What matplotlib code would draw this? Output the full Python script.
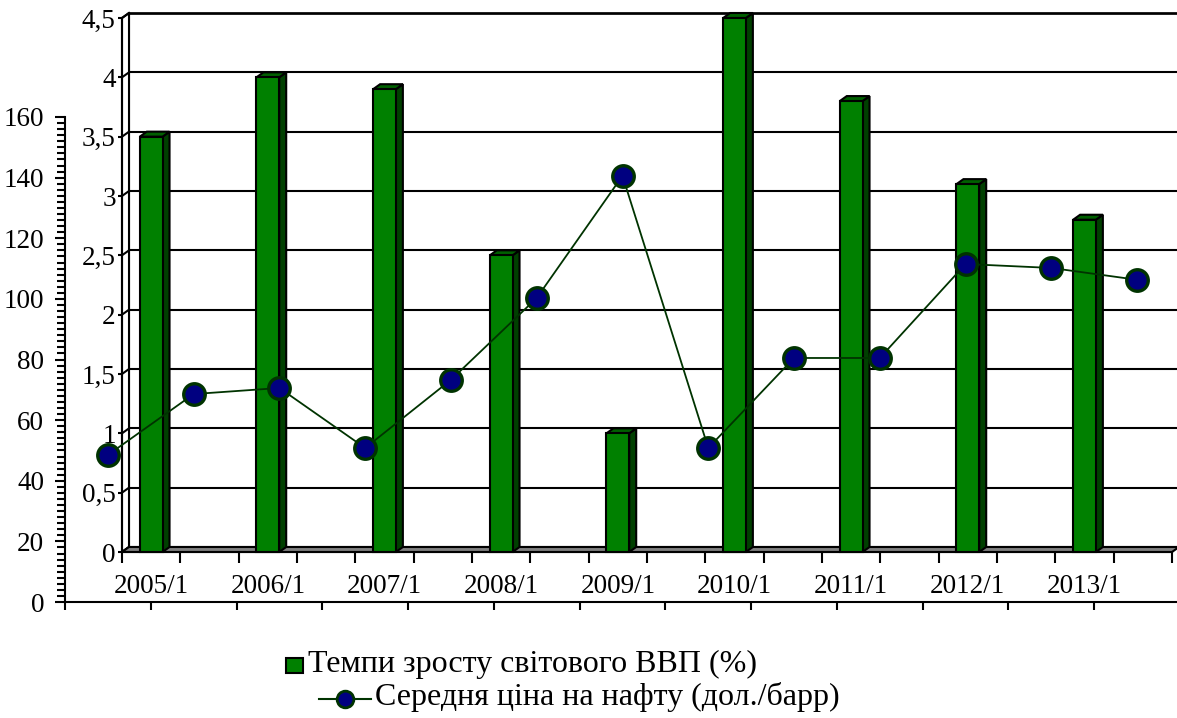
import matplotlib
matplotlib.use("Agg")
import matplotlib.pyplot as plt
import numpy as np
from matplotlib.patches import Polygon, Rectangle
from matplotlib.lines import Line2D
from matplotlib.ticker import MultipleLocator

plt.rcParams['font.family'] = ['Liberation Serif', 'DejaVu Serif']

# categories of the bar (inner) axis - half years
semesters = ['2005/1', '2005/2', '2006/1', '2006/2', '2007/1', '2007/2',
             '2008/1', '2008/2', '2009/1', '2009/2', '2010/1', '2010/2',
             '2011/1', '2011/2', '2012/1', '2012/2', '2013/1', '2013/2']

# world GDP growth (%) - one bar per year
gdp_labels = ['2005/1', '2006/1', '2007/1', '2008/1', '2009/1',
              '2010/1', '2011/1', '2012/1', '2013/1']
gdp_growth = [3.5, 4.0, 3.9, 2.5, 1.0, 4.5, 3.8, 3.1, 2.8]
gdp_ticks = [0, 0.5, 1, 1.5, 2, 2.5, 3, 3.5, 4, 4.5]

# average oil price (USD/barrel), half-year points
oil_price = [48.5, 68.6, 70.6, 50.8, 73.3, 100.3, 140.6,
             50.8, 80.5, 80.5, 111.5, 110.2, 106.3]
oil_ticks = [0, 20, 40, 60, 80, 100, 120, 140, 160]

W, H = 1177, 718
FS = 19.5      # tick labels
FS_LEG = 23    # legend
LW = 1.5
GREEN = '#008000'
SIDE = '#004000'
TOP = '#006000'

fig = plt.figure(figsize=(W / 100, H / 100), dpi=100)

# back wall with gridlines
ax_back = fig.add_axes([129 / W, (H - 547) / H, 1050 / W, 534 / H])
# front plane: bars, floor, inner axis labels
ax_front = fig.add_axes([122 / W, (H - 552) / H, 1050 / W, 534 / H])
# outer axis for the oil price line
ax_oil = fig.add_axes([65 / W, (H - 602) / H, 1115 / W, 485 / H])

n = len(semesters)
ymax = gdp_ticks[-1]
# 3d depth in data units
ddx = 7 / (1050 / n)
ddy = 5 / (534 / ymax)

for ax in (ax_back, ax_front):
    ax.set_xlim(-0.5, n - 0.5)
    ax.set_ylim(0, ymax)

ax_back.set_yticks(gdp_ticks)
ax_back.set_xticks([])
ax_back.grid(axis='y', color='black', lw=LW)
ax_back.tick_params(left=False, labelleft=False)
for s in ['right', 'bottom']:
    ax_back.spines[s].set_visible(False)
ax_back.spines['left'].set_linewidth(LW)
ax_back.spines['top'].set_linewidth(LW * 1.3)

ax_front.set_facecolor('none')
for s in ['top', 'right']:
    ax_front.spines[s].set_visible(False)
for s in ['left', 'bottom']:
    ax_front.spines[s].set_linewidth(LW)
    ax_front.spines[s].set_zorder(6)

# left side wall
x0 = -0.5
ax_front.add_patch(Polygon([(x0, 0), (x0, ymax), (x0 + ddx, ymax + ddy), (x0 + ddx, ddy)],
                           closed=True, fc='white', ec='black', lw=LW, clip_on=False, zorder=1))
for t in gdp_ticks:
    ax_front.plot([x0, x0 + ddx], [t, t + ddy], color='black', lw=LW, clip_on=False, zorder=1)

# floor
x1 = n - 0.5
ax_front.add_patch(Polygon([(x0, 0), (x1, 0), (x1 + ddx, ddy), (x0 + ddx, ddy)],
                           closed=True, fc='#808080', ec='black', lw=LW, clip_on=False, zorder=2))

# bars
bw = 0.39
for lab, v in zip(gdp_labels, gdp_growth):
    p = semesters.index(lab)
    r = p + bw / 2
    l = p - bw / 2
    ax_front.add_patch(Polygon([(r, 0), (r + ddx, ddy), (r + ddx, v + ddy), (r, v)],
                               closed=True, fc=SIDE, ec='black', lw=LW, clip_on=False, zorder=3))
    ax_front.add_patch(Polygon([(l, v), (r, v), (r + ddx, v + ddy), (l + ddx, v + ddy)],
                               closed=True, fc=TOP, ec='black', lw=LW, clip_on=False, zorder=3))
    ax_front.bar(p, v, width=bw, color=GREEN, edgecolor='black', lw=LW, zorder=4, clip_on=False)

ax_front.set_yticks(gdp_ticks)
ax_front.set_yticklabels([('%g' % t).replace('.', ',') for t in gdp_ticks])
ax_front.tick_params(axis='y', length=3, width=LW, pad=1.5, labelsize=FS)
ax_front.set_xticks(np.arange(-0.5, n, 1))
ax_front.set_xticklabels([])
ax_front.tick_params(axis='x', which='major', length=8, width=LW, direction='out')
ax_front.set_xticks(np.arange(n), minor=True)
ax_front.set_xticklabels([s if s in gdp_labels else '' for s in semesters], minor=True)
ax_front.tick_params(axis='x', which='minor', length=0, pad=16, labelsize=FS)

# oil price line
m = len(oil_price)
ax_oil.set_facecolor('none')
ax_oil.set_xlim(-0.5, m - 0.5)
ax_oil.set_ylim(0, oil_ticks[-1])
for s in ['top', 'right']:
    ax_oil.spines[s].set_visible(False)
for s in ['left', 'bottom']:
    ax_oil.spines[s].set_linewidth(LW)
ax_oil.plot(range(m), oil_price, color='#003300', lw=1.3, marker='o', ms=15.5,
            mfc='#000080', mec='#003300', mew=2.4, clip_on=False, zorder=5)
ax_oil.set_yticks(oil_ticks)
ax_oil.yaxis.set_minor_locator(MultipleLocator(2))
ax_oil.tick_params(axis='y', which='major', length=7, width=LW, pad=8, labelsize=FS)
ax_oil.tick_params(axis='y', which='minor', length=5.5, width=LW)
ax_oil.set_xticks(np.arange(-0.5, m, 1))
ax_oil.set_xticklabels([])
ax_oil.tick_params(axis='x', length=6, width=LW)

# legend drawn by hand to keep the offset second row
fig.add_artist(Rectangle((286 / W, (H - 673) / H), 17 / W, 15 / H, transform=fig.transFigure,
                         fc=GREEN, ec='black', lw=LW))
fig.text(308 / W, (H - 664) / H, 'Темпи зросту світового ВВП (%)', va='center', fontsize=FS_LEG)
fig.add_artist(Line2D([319 / W, 371 / W], [(H - 699) / H] * 2, transform=fig.transFigure,
                      color='#003300', lw=1.5))
fig.add_artist(Line2D([345 / W], [(H - 699) / H], transform=fig.transFigure, marker='o', ms=12,
                      mfc='#000080', mec='#003300', mew=2))
fig.text(375 / W, (H - 697) / H, 'Середня ціна на нафту (дол./барр)', va='center', fontsize=FS_LEG)

fig.savefig('out.png', dpi=100)
